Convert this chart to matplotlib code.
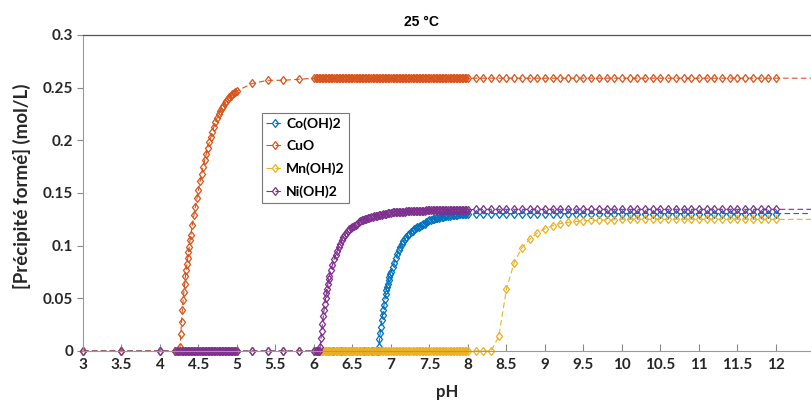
import matplotlib

matplotlib.use("Agg")
import matplotlib.pyplot as plt

# shared pH grids (sparse low / dense A / sparse mid / dense B / sparse high)
PH_LOW = [3.0, 3.5, 4.0]
PH_A = [4.20, 4.22, 4.24, 4.26, 4.28, 4.30, 4.32, 4.34, 4.36, 4.38, 4.40,
        4.42, 4.44, 4.46, 4.48, 4.50, 4.52, 4.54, 4.56, 4.58, 4.60, 4.62,
        4.64, 4.66, 4.68, 4.70, 4.72, 4.74, 4.76, 4.78, 4.80, 4.82, 4.84,
        4.86, 4.88, 4.90, 4.92, 4.94, 4.96, 4.98, 5.00]
PH_MID = [5.2, 5.4, 5.6, 5.8]
PH_B = [6.00, 6.02, 6.04, 6.06, 6.08, 6.10, 6.12, 6.14, 6.16, 6.18,
        6.20, 6.22, 6.24, 6.26, 6.28, 6.30, 6.32, 6.34, 6.36, 6.38,
        6.40, 6.42, 6.44, 6.46, 6.48, 6.50, 6.52, 6.54, 6.56, 6.58,
        6.60, 6.62, 6.64, 6.66, 6.68, 6.70, 6.72, 6.74, 6.76, 6.78,
        6.80, 6.82, 6.84, 6.86, 6.88, 6.90, 6.92, 6.94, 6.96, 6.98,
        7.00, 7.02, 7.04, 7.06, 7.08, 7.10, 7.12, 7.14, 7.16, 7.18,
        7.20, 7.22, 7.24, 7.26, 7.28, 7.30, 7.32, 7.34, 7.36, 7.38,
        7.40, 7.42, 7.44, 7.46, 7.48, 7.50, 7.52, 7.54, 7.56, 7.58,
        7.60, 7.62, 7.64, 7.66, 7.68, 7.70, 7.72, 7.74, 7.76, 7.78,
        7.80, 7.82, 7.84, 7.86, 7.88, 7.90, 7.92, 7.94, 7.96, 7.98, 8.00]
PH_HIGH = [8.1, 8.2, 8.3, 8.4, 8.5, 8.6, 8.7, 8.8, 8.9, 9.0,
           9.1, 9.2, 9.3, 9.4, 9.5, 9.6, 9.7, 9.8, 9.9, 10.0,
           10.1, 10.2, 10.3, 10.4, 10.5, 10.6, 10.7, 10.8, 10.9, 11.0,
           11.1, 11.2, 11.3, 11.4, 11.5, 11.6, 11.7, 11.8, 11.9, 12.0]
PH_TAIL = [13.0]

Y_LOW_ZERO = [0, 0, 0]
Y_A_ZERO = [0, 0, 0, 0, 0, 0, 0, 0, 0, 0, 0, 0, 0, 0, 0, 0, 0, 0, 0, 0, 0,
            0, 0, 0, 0, 0, 0, 0, 0, 0, 0, 0, 0, 0, 0, 0, 0, 0, 0, 0, 0]
Y_MID_ZERO = [0, 0, 0, 0]

# Co(OH)2
CO_PH_B = [6.00, 6.05, 6.10, 6.15, 6.20, 6.25, 6.30, 6.35, 6.40, 6.45, 6.50,
           6.55, 6.60, 6.65, 6.70, 6.75, 6.80, 6.82, 6.83,
           6.84, 6.85, 6.86, 6.87, 6.88, 6.89, 6.90, 6.91, 6.92, 6.93, 6.94,
           6.95, 6.96, 6.97, 6.98, 6.99, 7.00,
           7.02, 7.04, 7.06, 7.08, 7.10, 7.12, 7.14, 7.16, 7.18,
           7.20, 7.22, 7.24, 7.26, 7.28, 7.30, 7.32, 7.34, 7.36, 7.38,
           7.40, 7.42, 7.44, 7.46, 7.48, 7.50, 7.52, 7.54, 7.56, 7.58,
           7.60, 7.62, 7.64, 7.66, 7.68, 7.70, 7.72, 7.74, 7.76, 7.78,
           7.80, 7.82, 7.84, 7.86, 7.88, 7.90, 7.92, 7.94, 7.96, 7.98, 8.00]
CO_Y_B = [0, 0, 0, 0, 0, 0, 0, 0, 0, 0, 0, 0, 0, 0, 0, 0, 0, 0, 0,
          0.004, 0.011, 0.017, 0.023, 0.029, 0.034, 0.039, 0.044, 0.049,
          0.054, 0.058, 0.061, 0.064, 0.067, 0.070, 0.073, 0.075,
          0.080, 0.084, 0.088, 0.092, 0.096, 0.099, 0.102, 0.104, 0.106,
          0.108, 0.110, 0.111, 0.113, 0.114, 0.116, 0.117, 0.118, 0.118, 0.119,
          0.120, 0.121, 0.121, 0.122, 0.123, 0.124, 0.124, 0.125, 0.125, 0.126,
          0.126, 0.126, 0.127, 0.127, 0.127, 0.128, 0.128, 0.128, 0.128, 0.129,
          0.129, 0.129, 0.129, 0.129, 0.130, 0.130, 0.130, 0.130, 0.130, 0.130,
          0.130]
CO_Y_HIGH = [0.1305, 0.1305, 0.1305, 0.1305, 0.1305, 0.1305, 0.1305, 0.1305,
             0.1305, 0.1305, 0.1305, 0.1305, 0.1305, 0.1305, 0.1305, 0.1305,
             0.1305, 0.1305, 0.1305, 0.1305, 0.1305, 0.1305, 0.1305, 0.1305,
             0.1305, 0.1305, 0.1305, 0.1305, 0.1305, 0.1305, 0.1305, 0.1305,
             0.1305, 0.1305, 0.1305, 0.1305, 0.1305, 0.1305, 0.1305, 0.1305]
CO_Y_TAIL = [0.1305]

# CuO
CUO_PH_A = [4.20, 4.22, 4.24, 4.25, 4.26, 4.27, 4.28, 4.29, 4.30, 4.31, 4.32,
            4.33, 4.34, 4.35, 4.36, 4.37, 4.38, 4.39, 4.40,
            4.42, 4.44, 4.46, 4.48, 4.50, 4.52, 4.54, 4.56, 4.58, 4.60, 4.62,
            4.64, 4.66, 4.68, 4.70, 4.72, 4.74, 4.76, 4.78, 4.80, 4.82, 4.84,
            4.86, 4.88, 4.90, 4.92, 4.94, 4.96, 4.98, 5.00]
CUO_Y_A = [0, 0, 0, 0, 0.004, 0.016, 0.028, 0.039, 0.048, 0.056, 0.064,
           0.071, 0.077, 0.083, 0.088, 0.094, 0.099, 0.105, 0.110,
           0.120, 0.129, 0.137, 0.145, 0.153, 0.161, 0.168, 0.175, 0.181,
           0.187, 0.193, 0.198, 0.203, 0.208, 0.213, 0.217, 0.221, 0.225,
           0.228, 0.231, 0.233, 0.235, 0.237, 0.239, 0.241, 0.242, 0.244,
           0.245, 0.246, 0.247]
CUO_Y_MID = [0.254, 0.257, 0.257, 0.258]
CUO_Y_B = [0.259, 0.259, 0.259, 0.259, 0.259, 0.259, 0.259, 0.259, 0.259, 0.259,
           0.259, 0.259, 0.259, 0.259, 0.259, 0.259, 0.259, 0.259, 0.259, 0.259,
           0.259, 0.259, 0.259, 0.259, 0.259, 0.259, 0.259, 0.259, 0.259, 0.259,
           0.259, 0.259, 0.259, 0.259, 0.259, 0.259, 0.259, 0.259, 0.259, 0.259,
           0.259, 0.259, 0.259, 0.259, 0.259, 0.259, 0.259, 0.259, 0.259, 0.259,
           0.259, 0.259, 0.259, 0.259, 0.259, 0.259, 0.259, 0.259, 0.259, 0.259,
           0.259, 0.259, 0.259, 0.259, 0.259, 0.259, 0.259, 0.259, 0.259, 0.259,
           0.259, 0.259, 0.259, 0.259, 0.259, 0.259, 0.259, 0.259, 0.259, 0.259,
           0.259, 0.259, 0.259, 0.259, 0.259, 0.259, 0.259, 0.259, 0.259, 0.259,
           0.259, 0.259, 0.259, 0.259, 0.259, 0.259, 0.259, 0.259, 0.259, 0.259,
           0.259]
CUO_Y_HIGH = [0.259, 0.259, 0.259, 0.259, 0.259, 0.259, 0.259, 0.259,
              0.259, 0.259, 0.259, 0.259, 0.259, 0.259, 0.259, 0.259,
              0.259, 0.259, 0.259, 0.259, 0.259, 0.259, 0.259, 0.259,
              0.259, 0.259, 0.259, 0.259, 0.259, 0.259, 0.259, 0.259,
              0.259, 0.259, 0.259, 0.259, 0.259, 0.259, 0.259, 0.259]
CUO_Y_TAIL = [0.259]

# Mn(OH)2
MN_Y_B = [0, 0, 0, 0, 0, 0, 0, 0, 0, 0, 0, 0, 0, 0, 0, 0, 0, 0, 0, 0,
          0, 0, 0, 0, 0, 0, 0, 0, 0, 0, 0, 0, 0, 0, 0, 0, 0, 0, 0, 0,
          0, 0, 0, 0, 0, 0, 0, 0, 0, 0, 0, 0, 0, 0, 0, 0, 0, 0, 0, 0,
          0, 0, 0, 0, 0, 0, 0, 0, 0, 0, 0, 0, 0, 0, 0, 0, 0, 0, 0, 0,
          0, 0, 0, 0, 0, 0, 0, 0, 0, 0, 0, 0, 0, 0, 0, 0, 0, 0, 0, 0, 0]
MN_Y_HIGH = [0, 0, 0, 0.014, 0.059, 0.084, 0.098, 0.106, 0.112, 0.116,
             0.119, 0.121, 0.122, 0.123, 0.1235, 0.124, 0.124, 0.1245, 0.1245,
             0.125, 0.125, 0.125, 0.125, 0.125, 0.125, 0.125, 0.125, 0.125,
             0.125, 0.125, 0.125, 0.125, 0.125, 0.125, 0.125, 0.125, 0.125,
             0.125, 0.125, 0.125]
MN_Y_TAIL = [0.125]

# Ni(OH)2
NI_PH_B = [6.00, 6.02, 6.04, 6.06, 6.07, 6.08, 6.09, 6.10, 6.11, 6.12, 6.13,
           6.14, 6.15, 6.16, 6.17, 6.18, 6.19, 6.20,
           6.22, 6.24, 6.26, 6.28, 6.30, 6.32, 6.34, 6.36, 6.38, 6.40, 6.42,
           6.44, 6.46, 6.48, 6.50, 6.52, 6.54, 6.56, 6.58,
           6.60, 6.62, 6.64, 6.66, 6.68, 6.70, 6.72, 6.74, 6.76, 6.78,
           6.80, 6.82, 6.84, 6.86, 6.88, 6.90, 6.92, 6.94, 6.96, 6.98,
           7.00, 7.02, 7.04, 7.06, 7.08, 7.10, 7.12, 7.14, 7.16, 7.18,
           7.20, 7.22, 7.24, 7.26, 7.28, 7.30, 7.32, 7.34, 7.36, 7.38,
           7.40, 7.42, 7.44, 7.46, 7.48, 7.50, 7.52, 7.54, 7.56, 7.58,
           7.60, 7.62, 7.64, 7.66, 7.68, 7.70, 7.72, 7.74, 7.76, 7.78,
           7.80, 7.82, 7.84, 7.86, 7.88, 7.90, 7.92, 7.94, 7.96, 7.98, 8.00]
NI_Y_B = [0, 0, 0, 0, 0, 0.004, 0.012, 0.019, 0.026, 0.033, 0.039,
          0.045, 0.050, 0.055, 0.059, 0.064, 0.068, 0.071,
          0.077, 0.082, 0.087, 0.091, 0.095, 0.099, 0.102, 0.105, 0.108,
          0.110, 0.112, 0.114, 0.116, 0.117, 0.118, 0.119, 0.120, 0.121, 0.122,
          0.123, 0.124, 0.124, 0.125, 0.125, 0.126, 0.126, 0.127, 0.127, 0.128,
          0.128, 0.128, 0.129, 0.129, 0.129, 0.130, 0.130, 0.130, 0.131, 0.131,
          0.131, 0.132, 0.132, 0.132, 0.132, 0.132, 0.132, 0.132, 0.132, 0.132,
          0.133, 0.133, 0.133, 0.133, 0.133, 0.133, 0.133, 0.133, 0.133, 0.133,
          0.133, 0.133, 0.133, 0.134, 0.134, 0.134, 0.134, 0.134, 0.134, 0.134,
          0.134, 0.134, 0.134, 0.134, 0.134, 0.134, 0.134, 0.134, 0.134, 0.134,
          0.134, 0.134, 0.134, 0.134, 0.134, 0.134, 0.134, 0.134, 0.134, 0.134,
          0.134]
NI_Y_HIGH = [0.1345, 0.1345, 0.1345, 0.1345, 0.1345, 0.1345, 0.1345, 0.1345,
             0.1345, 0.1345, 0.1345, 0.1345, 0.1345, 0.1345, 0.1345, 0.1345,
             0.1345, 0.1345, 0.1345, 0.1345, 0.1345, 0.1345, 0.1345, 0.1345,
             0.1345, 0.1345, 0.1345, 0.1345, 0.1345, 0.1345, 0.1345, 0.1345,
             0.1345, 0.1345, 0.1345, 0.1345, 0.1345, 0.1345, 0.1345, 0.1345]
NI_Y_TAIL = [0.1345]

SERIES = [
    ("Co(OH)2", "#0072BD",
     PH_LOW + PH_A + PH_MID + CO_PH_B + PH_HIGH + PH_TAIL,
     Y_LOW_ZERO + Y_A_ZERO + Y_MID_ZERO + CO_Y_B + CO_Y_HIGH + CO_Y_TAIL),
    ("CuO", "#D95319",
     PH_LOW + CUO_PH_A + PH_MID + PH_B + PH_HIGH + PH_TAIL,
     Y_LOW_ZERO + CUO_Y_A + CUO_Y_MID + CUO_Y_B + CUO_Y_HIGH + CUO_Y_TAIL),
    ("Mn(OH)2", "#EDB120",
     PH_LOW + PH_A + PH_MID + PH_B + PH_HIGH + PH_TAIL,
     Y_LOW_ZERO + Y_A_ZERO + Y_MID_ZERO + MN_Y_B + MN_Y_HIGH + MN_Y_TAIL),
    ("Ni(OH)2", "#7E2F8E",
     PH_LOW + PH_A + PH_MID + NI_PH_B + PH_HIGH + PH_TAIL,
     Y_LOW_ZERO + Y_A_ZERO + Y_MID_ZERO + NI_Y_B + NI_Y_HIGH + NI_Y_TAIL),
]

X_TICKS = [3, 3.5, 4, 4.5, 5, 5.5, 6, 6.5, 7, 7.5, 8, 8.5, 9, 9.5, 10,
           10.5, 11, 11.5, 12]
X_TICK_LABELS = ["3", "3.5", "4", "4.5", "5", "5.5", "6", "6.5", "7", "7.5",
                 "8", "8.5", "9", "9.5", "10", "10.5", "11", "11.5", "12"]
Y_TICKS = [0, 0.05, 0.1, 0.15, 0.2, 0.25, 0.3]
Y_TICK_LABELS = ["0", "0.05", "0.1", "0.15", "0.2", "0.25", "0.3"]

plt.rcParams["font.family"] = ["Lato", "DejaVu Sans"]

fig = plt.figure(figsize=(8.12, 4.03), dpi=100)
ax = fig.add_axes([83 / 812, 52 / 403, 729 / 812, 316 / 403])

for label, color, xs, ys in SERIES:
    ax.plot(xs, ys, linestyle=(0, (5, 3)), linewidth=0.8, color=color,
            marker="d", markersize=4.5, markerfacecolor="none",
            markeredgewidth=0.9, markevery=slice(0, len(xs) - 1),
            label=label, clip_on=False)

ax.set_xlim(3, 3 + 729 / 77)
ax.set_ylim(0, 0.3)
ax.set_xticks(X_TICKS)
ax.set_xticklabels(X_TICK_LABELS)
ax.set_yticks(Y_TICKS)
ax.set_yticklabels(Y_TICK_LABELS)
ax.tick_params(axis="x", direction="in", length=5, width=0.8, color="#888888",
               pad=5, labelsize=11, labelcolor="#262626")
ax.tick_params(axis="y", direction="out", length=4, width=0.8, color="#888888",
               pad=3, labelsize=11, labelcolor="#262626")
for lab in ax.get_xticklabels() + ax.get_yticklabels():
    lab.set_fontweight("bold")

for side in ("left", "bottom"):
    ax.spines[side].set_color("#9a9a9a")
    ax.spines[side].set_linewidth(0.8)
ax.spines["top"].set_color("#555555")
ax.spines["top"].set_linewidth(0.9)
ax.spines["right"].set_visible(False)

ax.set_xlabel("pH", fontsize=12, fontweight="bold", color="#262626")
ax.xaxis.set_label_coords(0.5, -0.105)
ax.set_ylabel("[Précipité formé] (mol/L)", fontsize=13.5, fontweight="bold",
              color="#262626")
ax.yaxis.set_label_coords(-0.072, 0.52)

ax.text(0.4636, 1.041, "25 °C", transform=ax.transAxes, ha="center",
        va="center", fontsize=10, fontweight="bold",
        family=["Liberation Sans", "DejaVu Sans"])

leg = ax.legend(loc="upper left", bbox_to_anchor=(0.2455, 0.753),
                borderaxespad=0, frameon=True, fancybox=False,
                edgecolor="#777777", framealpha=1, handlelength=1.3,
                handletextpad=0.15, labelspacing=0.75, borderpad=0.3,
                prop={"family": ["Lato", "DejaVu Sans"], "weight": "bold",
                      "size": 10})
leg.get_frame().set_linewidth(0.8)

fig.savefig("out.png", dpi=100)
